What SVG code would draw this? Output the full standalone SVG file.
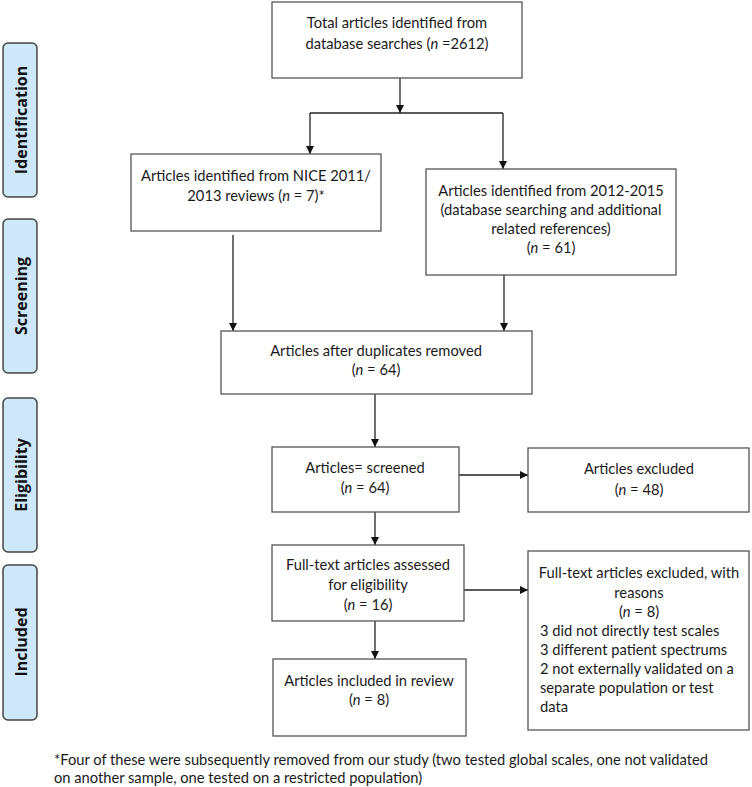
<svg xmlns="http://www.w3.org/2000/svg" width="752" height="787" viewBox="0 0 752 787">
<style>
.box{fill:#fff;stroke:#555;stroke-width:1.3}
.side{fill:#cfe8f9;stroke:#444;stroke-width:1.5}
.t{font-family:Lato,"Liberation Sans",sans-serif;font-size:14.7px;fill:#1a1a1a;text-anchor:middle}
.l{text-anchor:start}
.s{font-family:"Open Sans","Liberation Sans",sans-serif;font-size:16px;font-weight:bold;fill:#111;text-anchor:middle}
.c{fill:none;stroke:#222;stroke-width:1.3}
</style>
<defs>
<marker id="ah" viewBox="0 0 10 10" refX="10" refY="5" markerWidth="8" markerHeight="8" markerUnits="userSpaceOnUse" orient="auto">
<path d="M0,0 L10,5 L0,10 z" fill="#111"/>
</marker>
</defs>
<rect width="752" height="787" fill="#fff"/>
<g id="side-identification"><rect class="side" x="3" y="43" width="34" height="154" rx="5"/><text class="s" transform="translate(27,120) rotate(-90)">Identification</text></g>
<g id="side-screening"><rect class="side" x="3" y="219" width="34" height="154" rx="5"/><text class="s" transform="translate(27,296) rotate(-90)">Screening</text></g>
<g id="side-eligibility"><rect class="side" x="3" y="398" width="34" height="154" rx="5"/><text class="s" transform="translate(27,475) rotate(-90)">Eligibility</text></g>
<g id="side-included"><rect class="side" x="3" y="565" width="34" height="155" rx="5"/><text class="s" transform="translate(27,642) rotate(-90)">Included</text></g>

<g id="connectors">
<path class="c" d="M400,78 V113" marker-end="url(#ah)"/>
<path class="c" d="M310,113 H503"/>
<path class="c" d="M310,113 V154" marker-end="url(#ah)"/>
<path class="c" d="M503,113 V169" marker-end="url(#ah)"/>
<path class="c" d="M233,235 V331" marker-end="url(#ah)"/>
<path class="c" d="M504,275 V331" marker-end="url(#ah)"/>
<path class="c" d="M375,394 V447" marker-end="url(#ah)"/>
<path class="c" d="M459,475 H528" marker-end="url(#ah)"/>
<path class="c" d="M375,512 V545" marker-end="url(#ah)"/>
<path class="c" d="M464,590 H528" marker-end="url(#ah)"/>
<path class="c" d="M375,621 V659" marker-end="url(#ah)"/>
</g>

<g id="n-total"><rect class="box" x="272" y="2" width="250" height="76"/>
<text class="t" x="397" y="28">Total articles identified from</text>
<text class="t" x="397" y="49">database searches (<tspan font-style="italic">n</tspan> =2612)</text></g>

<g id="n-nice"><rect class="box" x="131" y="154" width="250" height="77"/>
<text class="t" x="256" y="181">Articles identified from NICE 2011/</text>
<text class="t" x="256" y="201">2013 reviews (<tspan font-style="italic">n</tspan> = 7)*</text></g>

<g id="n-2012"><rect class="box" x="426" y="169" width="250" height="106"/>
<text class="t" x="551" y="196">Articles identified from 2012-2015</text>
<text class="t" x="551" y="215">(database searching and additional</text>
<text class="t" x="551" y="234">related references)</text>
<text class="t" x="551" y="253">(<tspan font-style="italic">n</tspan> = 61)</text></g>

<g id="n-dup"><rect class="box" x="221" y="331" width="311" height="63"/>
<text class="t" x="376" y="356">Articles after duplicates removed</text>
<text class="t" x="376" y="375">(<tspan font-style="italic">n</tspan> = 64)</text></g>

<g id="n-screened"><rect class="box" x="272" y="447" width="187" height="65"/>
<text class="t" x="365" y="473">Articles= screened</text>
<text class="t" x="365" y="493">(<tspan font-style="italic">n</tspan> = 64)</text></g>

<g id="n-excluded"><rect class="box" x="528" y="448" width="221" height="64"/>
<text class="t" x="639" y="474">Articles excluded</text>
<text class="t" x="639" y="495">(<tspan font-style="italic">n</tspan> = 48)</text></g>

<g id="n-fulltext"><rect class="box" x="272" y="545" width="192" height="76"/>
<text class="t" x="368" y="570">Full-text articles assessed</text>
<text class="t" x="368" y="590">for eligibility</text>
<text class="t" x="368" y="610">(<tspan font-style="italic">n</tspan> = 16)</text></g>

<g id="n-reasons"><rect class="box" x="528" y="551" width="221" height="179"/>
<text class="t" x="639" y="578">Full-text articles excluded, with</text>
<text class="t" x="639" y="598">reasons</text>
<text class="t" x="639" y="617">(<tspan font-style="italic">n</tspan> = 8)</text>
<text class="t l" x="540" y="636">3 did not directly test scales</text>
<text class="t l" x="540" y="655">3 different patient spectrums</text>
<text class="t l" x="540" y="674">2 not externally validated on a</text>
<text class="t l" x="540" y="693">separate population or test</text>
<text class="t l" x="540" y="712">data</text></g>

<g id="n-included"><rect class="box" x="273" y="659" width="193" height="77"/>
<text class="t" x="369" y="686">Articles included in review</text>
<text class="t" x="369" y="705">(<tspan font-style="italic">n</tspan> = 8)</text></g>

<g id="footnote">
<text class="t l" x="54" y="765">*Four of these were subsequently removed from our study (two tested global scales, one not validated</text>
<text class="t l" x="54" y="783">on another sample, one tested on a restricted population)</text>
</g>
</svg>
